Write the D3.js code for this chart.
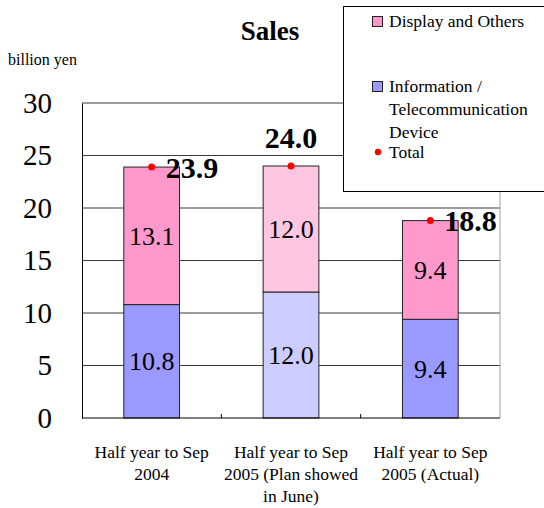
<!DOCTYPE html>
<html>
<head>
<meta charset="utf-8">
<script src="https://cdn.jsdelivr.net/npm/d3@7"></script>
<style>
  body { margin: 0; background: #fff; }
  svg text { font-family: "Liberation Serif", "Times New Roman", serif; fill: #000; }
</style>
</head>
<body>
<div id="chart"></div>
<script>
var categories = ["Half year to Sep 2004", "Half year to Sep 2005 (Plan showed in June)", "Half year to Sep 2005 (Actual)"];
var categoryLines = [["Half year to Sep", "2004"], ["Half year to Sep", "2005 (Plan showed", "in June)"], ["Half year to Sep", "2005 (Actual)"]];
var infoValues = [10.8, 12.0, 9.4];
var displayValues = [13.1, 12.0, 9.4];
var totalValues = [23.9, 24.0, 18.8];
var yTicks = [0, 5, 10, 15, 20, 25, 30];

var width = 544, height = 508;
var margin = {top: 103, right: 44, bottom: 90, left: 82};

var pink = "#ff99cc", blue = "#9999ff";
var pinkLight = "#ffc6e2", blueLight = "#ccccff";

var svg = d3.select("#chart").append("svg")
    .attr("width", width)
    .attr("height", height);

/* Scales */
var x = d3.scaleBand()
    .domain(categories)
    .range([margin.left, width - margin.right])
    .paddingInner(0.6)
    .paddingOuter(0.3);

var y = d3.scaleLinear()
    .domain([0, 30])
    .range([height - margin.bottom, margin.top]);

/* grid */
svg.append("g")
    .selectAll("line")
    .data(yTicks.slice(1))
    .enter().append("line")
    .attr("x1", margin.left)
    .attr("x2", width - margin.right)
    .attr("y1", d => y(d))
    .attr("y2", d => y(d))
    .attr("stroke", "#3a3a3a")
    .attr("stroke-width", 1);

// right border of plot, grey
svg.append("line")
    .attr("x1", width - margin.right).attr("x2", width - margin.right)
    .attr("y1", y(30)).attr("y2", y(0))
    .attr("stroke", "#a0a0a0");

/* y axis */
var yAxis = d3.axisLeft(y).tickValues(yTicks).tickSize(0).tickPadding(30);
svg.append("g")
    .attr("transform", `translate(${margin.left},0)`)
    .call(yAxis)
    .attr("font-family", null)
    .call(g => g.select(".domain").attr("stroke", "#000"))
    .call(g => g.selectAll("text")
        .style("font-size", "29px")
        .attr("fill", "#000"));

/* stacked bars */
var rows = categories.map((c, i) => ({cat: c, info: infoValues[i], display: displayValues[i], total: totalValues[i], i: i}));
var stack = d3.stack().keys(["info", "display"]);
var series = stack(rows);

var fillFor = function(key, i) {
    if (key == "info") return i == 1 ? blueLight : blue;
    return i == 1 ? pinkLight : pink;
};

var groups = svg.append("g").selectAll("g")
    .data(series).enter()
    .append("g");

groups.selectAll("rect")
    .data(s => s.map(d => ({key: s.key, d: d})))
    .enter().append("rect")
    .attr("x", e => x(e.d.data.cat))
    .attr("width", x.bandwidth())
    .attr("y", e => y(e.d[1]))
    .attr("height", e => y(e.d[0]) - y(e.d[1]))
    .attr("fill", e => fillFor(e.key, e.d.data.i))
    .attr("stroke", "#222")
    .attr("stroke-width", 1);

groups.selectAll("text")
    .data(s => s.map(d => ({key: s.key, d: d})))
    .enter().append("text")
    .attr("x", e => x(e.d.data.cat) + x.bandwidth() / 2)
    .attr("y", e => (y(e.d[0]) + y(e.d[1])) / 2)
    .attr("dy", "0.35em")
    .attr("text-anchor", "middle")
    .style("font-size", "26px")
    .text(e => (e.d[1] - e.d[0]).toFixed(1));

/* bottom axis */
svg.append("line")
    .attr("x1", margin.left).attr("x2", width - margin.right)
    .attr("y1", y(0)).attr("y2", y(0))
    .attr("stroke", "#000");

svg.append("g").selectAll("line")
    .data(categories.slice(1))
    .enter().append("line")
    .attr("x1", d => x(d) - x.step() * x.paddingInner() / 2)
    .attr("x2", d => x(d) - x.step() * x.paddingInner() / 2)
    .attr("y1", y(0))
    .attr("y2", y(0) - 4)
    .attr("stroke", "#000");

var xlab = svg.append("g").selectAll("text")
    .data(categories)
    .enter().append("text")
    .attr("x", d => x(d) + x.bandwidth() / 2)
    .attr("y", 458)
    .attr("text-anchor", "middle")
    .style("font-size", "17.5px");

xlab.selectAll("tspan")
    .data((d, i) => categoryLines[i])
    .enter().append("tspan")
    .attr("x", function() { return d3.select(this.parentNode).attr("x"); })
    .attr("dy", (d, j) => j == 0 ? 0 : 22)
    .text(d => d);

/* legend box (drawn before totals so "24.0" stays on top) */
var legend = svg.append("g");
legend.append("rect")
    .attr("x", 343.5).attr("y", 6.5)
    .attr("width", 220).attr("height", 185)
    .attr("fill", "#fff")
    .attr("stroke", "#000");

var legendItems = [
    {label: ["Display and Others"], color: pink, y: 27},
    {label: ["Information /", "Telecommunication", "Device"], color: blue, y: 92}
];
legendItems.forEach(function(item) {
    legend.append("rect")
        .attr("x", 372.5).attr("y", item.y - 10.5)
        .attr("width", 10).attr("height", 10)
        .attr("fill", item.color)
        .attr("stroke", "#222");
    item.label.forEach(function(t, k) {
        legend.append("text")
            .attr("x", 389).attr("y", item.y + k * 23)
            .style("font-size", "17.5px")
            .text(t);
    });
});
legend.append("circle")
    .attr("cx", 378).attr("cy", 152).attr("r", 3.2)
    .attr("fill", "#ff0000");
legend.append("text")
    .attr("x", 389).attr("y", 158)
    .style("font-size", "17.5px")
    .text("Total");

/* totals */
svg.append("g").selectAll("circle")
    .data(rows)
    .enter().append("circle")
    .attr("cx", d => x(d.cat) + x.bandwidth() / 2)
    .attr("cy", d => y(d.total))
    .attr("r", 3.5)
    .attr("fill", "#ff0000");

svg.append("g").selectAll("text")
    .data(rows)
    .enter().append("text")
    .attr("x", d => d.i == 1 ? x(d.cat) + x.bandwidth() / 2 : x(d.cat) + x.bandwidth() / 2 + 14)
    .attr("y", d => d.i == 1 ? y(d.total) - 18 : y(d.total))
    .attr("dy", d => d.i == 1 ? 0 : "0.35em")
    .attr("text-anchor", d => d.i == 1 ? "middle" : "start")
    .style("font-size", "30px")
    .style("font-weight", "bold")
    .text(d => d.total.toFixed(1));

/* title and unit */
svg.append("text")
    .attr("x", 270).attr("y", 40)
    .attr("text-anchor", "middle")
    .style("font-size", "27px")
    .style("font-weight", "bold")
    .text("Sales");

svg.append("text")
    .attr("x", 8).attr("y", 65)
    .style("font-size", "16px")
    .text("billion yen");
</script>
</body>
</html>
